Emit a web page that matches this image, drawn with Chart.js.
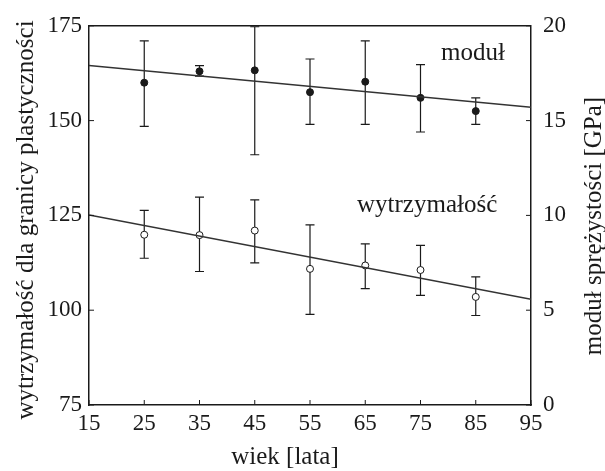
<!DOCTYPE html>
<html>
<head>
<meta charset="utf-8">
<script src="https://cdn.jsdelivr.net/npm/chart.js@4.4.1/dist/chart.umd.min.js"></script>
<style>
  html, body { margin: 0; padding: 0; background: #fff; }
</style>
</head>
<body>
<canvas id="myChart" width="605" height="471"></canvas>
<script>
// ages of the groups
const ages = [25, 35, 45, 55, 65, 75, 85];

// modulus [GPa] - right axis
const modul = [17.0, 17.6, 17.65, 16.5, 17.05, 16.2, 15.5];
const modulLow = [14.7, 17.35, 13.2, 14.8, 14.8, 14.4, 14.8];
const modulHigh = [19.2, 17.9, 19.95, 18.25, 19.2, 17.95, 16.2];

// yield strength - left axis
const wytrz = [119.9, 119.8, 121.0, 110.9, 111.8, 110.6, 103.5];
const wytrzLow = [113.7, 110.2, 112.5, 98.9, 105.7, 103.9, 98.6];
const wytrzHigh = [126.3, 129.8, 129.1, 122.5, 117.5, 117.1, 108.8];

// fitted lines
const fitX = [15, 95];
const modulFit = [17.9, 15.7];
const wytrzFit = [125.1, 102.9];

// tick labels
const xTicks = [15, 25, 35, 45, 55, 65, 75, 85, 95];
const leftTicks = [75, 100, 125, 150, 175];
const rightTicks = [0, 5, 10, 15, 20];

const ink = '#1a1a1a';
const fontFamily = "'Liberation Serif', 'DejaVu Serif', serif";
const textFont = '25px ' + fontFamily;
Chart.defaults.font.family = fontFamily;
Chart.defaults.color = ink;

function toPoints(xs, ys) {
    return xs.map((x, i) => ({ x: x, y: ys[i] }));
}

const extras = {
    id: 'extras',
    beforeDatasetsDraw(chart) {
        const ctx = chart.ctx;
        const xs = chart.scales.x;
        // error bars
        const bars = [
            { low: modulLow, high: modulHigh, scale: chart.scales.y2 },
            { low: wytrzLow, high: wytrzHigh, scale: chart.scales.y }
        ];
        ctx.save();
        ctx.strokeStyle = ink;
        ctx.lineWidth = 1.2;
        bars.forEach(b => {
            ages.forEach((a, i) => {
                const px = xs.getPixelForValue(a);
                const y1 = b.scale.getPixelForValue(b.low[i]);
                const y2 = b.scale.getPixelForValue(b.high[i]);
                ctx.beginPath();
                ctx.moveTo(px, y1); ctx.lineTo(px, y2);
                ctx.moveTo(px - 4.5, y1); ctx.lineTo(px + 4.5, y1);
                ctx.moveTo(px - 4.5, y2); ctx.lineTo(px + 4.5, y2);
                ctx.stroke();
            });
        });
        ctx.restore();
    },
    afterDraw(chart) {
        const ctx = chart.ctx;
        const area = chart.chartArea;
        const xs = chart.scales.x, yl = chart.scales.y, yr = chart.scales.y2;
        ctx.save();
        ctx.strokeStyle = ink;
        ctx.lineWidth = 1.5;
        // top frame line
        ctx.beginPath();
        ctx.moveTo(area.left, area.top);
        ctx.lineTo(area.right, area.top);
        ctx.stroke();
        // inward ticks
        ctx.lineWidth = 1;
        ctx.beginPath();
        xTicks.forEach(v => {
            const px = xs.getPixelForValue(v);
            ctx.moveTo(px, area.bottom); ctx.lineTo(px, area.bottom - 5);
        });
        leftTicks.forEach(v => {
            const py = yl.getPixelForValue(v);
            ctx.moveTo(area.left, py); ctx.lineTo(area.left + 5, py);
        });
        rightTicks.forEach(v => {
            const py = yr.getPixelForValue(v);
            ctx.moveTo(area.right, py); ctx.lineTo(area.right - 5, py);
        });
        ctx.stroke();

        // labels inside plot
        ctx.fillStyle = ink;
        ctx.font = textFont;
        ctx.textAlign = 'center';
        ctx.textBaseline = 'middle';
        ctx.fillText('moduł', xs.getPixelForValue(84.5), yl.getPixelForValue(167.8));
        ctx.fillText('wytrzymałość', xs.getPixelForValue(76.2), yl.getPixelForValue(127.5));

        // axis titles (off-centre in the original, so drawn here)
        ctx.textBaseline = 'alphabetic';
        ctx.fillText('wiek [lata]', 285, 464);

        ctx.save();
        ctx.translate(33, 220);
        ctx.rotate(-Math.PI / 2);
        ctx.fillText('wytrzymałość dla granicy plastyczności', 0, 0);
        ctx.restore();

        ctx.save();
        ctx.translate(601, 226);
        ctx.rotate(-Math.PI / 2);
        ctx.fillText('moduł sprężystości [GPa]', 0, 0);
        ctx.restore();

        ctx.restore();
    }
};

const tickFont = { size: 23 };

new Chart(document.getElementById('myChart'), {
    type: 'scatter',
    data: {
        datasets: [
            {
                label: 'moduł fit',
                type: 'line',
                data: toPoints(fitX, modulFit),
                yAxisID: 'y2',
                borderColor: '#333',
                borderWidth: 1.5,
                pointRadius: 0,
                fill: false
            },
            {
                label: 'wytrzymałość fit',
                type: 'line',
                data: toPoints(fitX, wytrzFit),
                yAxisID: 'y',
                borderColor: '#333',
                borderWidth: 1.5,
                pointRadius: 0,
                fill: false
            },
            {
                label: 'moduł',
                data: toPoints(ages, modul),
                yAxisID: 'y2',
                pointRadius: 3.5,
                backgroundColor: ink,
                borderColor: ink,
                borderWidth: 1
            },
            {
                label: 'wytrzymałość',
                data: toPoints(ages, wytrz),
                yAxisID: 'y',
                pointRadius: 3.5,
                backgroundColor: '#fff',
                borderColor: ink,
                borderWidth: 1
            }
        ]
    },
    options: {
        responsive: false,
        animation: false,
        layout: { padding: { top: 17, left: 0, right: 0, bottom: 0 } },
        plugins: { legend: { display: false }, tooltip: { enabled: false } },
        scales: {
            x: {
                type: 'linear',
                position: 'bottom',
                min: 15,
                max: 95,
                afterBuildTicks: s => { s.ticks = xTicks.map(v => ({ value: v })); },
                afterFit: s => { s.height = 66; },
                grid: { display: false, drawTicks: false },
                border: { color: ink, width: 1.5 },
                ticks: { font: tickFont, padding: 5 }
            },
            y: {
                type: 'linear',
                position: 'left',
                min: 75,
                max: 175,
                afterBuildTicks: s => { s.ticks = leftTicks.map(v => ({ value: v })); },
                afterFit: s => { s.width = 89; },
                grid: { display: false, drawTicks: false },
                border: { color: ink, width: 1.5 },
                ticks: { font: tickFont, padding: 7 }
            },
            y2: {
                type: 'linear',
                position: 'right',
                min: 0,
                max: 20,
                afterBuildTicks: s => { s.ticks = rightTicks.map(v => ({ value: v })); },
                afterFit: s => { s.width = 74; },
                grid: { display: false, drawTicks: false },
                border: { color: ink, width: 1.5 },
                ticks: { font: tickFont, padding: 12 }
            }
        }
    },
    plugins: [extras]
});
</script>
</body>
</html>
